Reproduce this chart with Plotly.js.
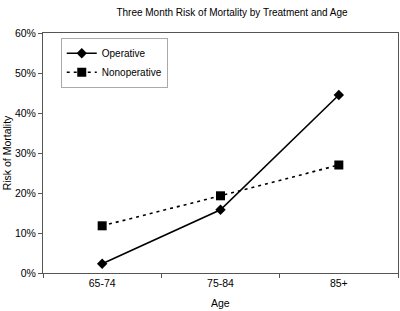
<!DOCTYPE html>
<html><head><meta charset="utf-8">
<script src="https://cdn.plot.ly/plotly-3.0.1.min.js"></script>
<style>html,body{margin:0;padding:0;background:#fff}#c{width:400px;height:311px}</style>
</head><body><div id="c"></div>
<script>
const ages = ["65-74", "75-84", "85+"];
const operative = [0.023, 0.158, 0.445];
const nonoperative = [0.118, 0.193, 0.270];
const yTicks = [0, 0.1, 0.2, 0.3, 0.4, 0.5, 0.6];

const fam = "Liberation Sans, Arial, sans-serif";
const data = [
  {x: ages, y: operative, name: "Operative", type: "scatter", mode: "lines+markers",
   line: {color: "#000", width: 1.6}, marker: {symbol: "diamond", size: 8, color: "#000"}},
  {x: ages, y: nonoperative, name: "Nonoperative", type: "scatter", mode: "lines+markers",
   line: {color: "#000", width: 1.6, dash: "3px,4px"}, marker: {symbol: "square", size: 9, color: "#000"}}
];
const layout = {
  width: 400, height: 311,
  margin: {l: 43, r: 2, t: 33, b: 38},
  paper_bgcolor: "#fff", plot_bgcolor: "#fff",
  font: {family: fam, size: 10, color: "#000"},
  title: {text: "Three Month Risk of Mortality by Treatment and Age", font: {family: fam, size: 10, color: "#000"},
          x: 0.58, xanchor: "center", y: 0.96, yanchor: "middle"},
  xaxis: {type: "category", range: [-0.5, 2.5], showgrid: false, zeroline: false,
          showline: true, linecolor: "#555", linewidth: 1, mirror: true,
          ticks: "outside", tickson: "boundaries", ticklen: 4, tickcolor: "#555",
          tickfont: {family: fam, size: 10.5, color: "#000"}},
  yaxis: {range: [0, 0.6], tickvals: yTicks, tickformat: ".0%", showgrid: false, zeroline: false,
          showline: true, linecolor: "#555", linewidth: 1, mirror: true,
          ticks: "outside", ticklen: 4, tickcolor: "#555",
          tickfont: {family: fam, size: 10.5, color: "#000"},
          title: {text: "Risk of Mortality", font: {family: fam, size: 10.5, color: "#000"}}},
  annotations: [
    {text: "Age", xref: "paper", yref: "paper", x: 0.5, y: -0.125, xanchor: "center", yanchor: "middle",
     showarrow: false, font: {family: fam, size: 10.5, color: "#000"}}
  ],
  showlegend: true,
  legend: {x: 0.05, y: 0.98, xanchor: "left", yanchor: "top", bgcolor: "#fff",
           bordercolor: "#aaa", borderwidth: 1, font: {family: fam, size: 10, color: "#000"},
           tracegroupgap: 0, itemwidth: 30}
};
Plotly.newPlot("c", data, layout, {displayModeBar: false, staticPlot: true});
</script></body></html>
